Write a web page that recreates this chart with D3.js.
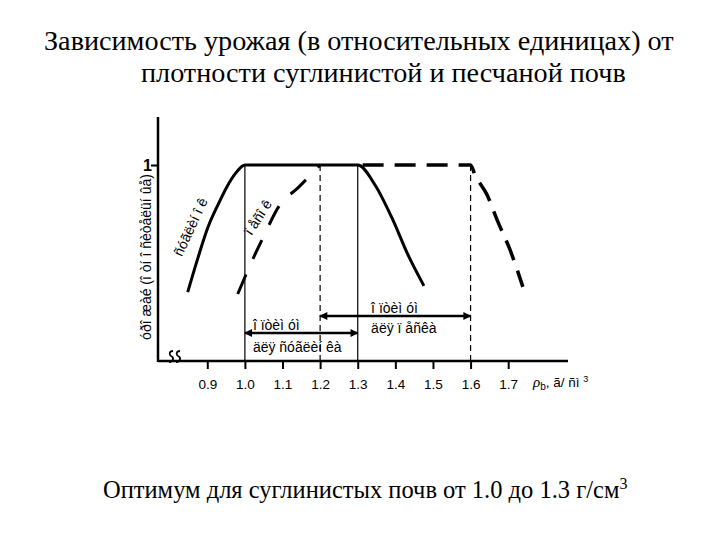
<!DOCTYPE html>
<html><head><meta charset="utf-8">
<script src="https://cdn.jsdelivr.net/npm/d3@7"></script>
<style>body{margin:0;background:#fff}svg{display:block}
.serif{font-family:'Liberation Serif','Times New Roman',serif}
.sans{font-family:'Liberation Sans',Arial,sans-serif}
</style>
</head><body>
<svg id="c" width="720" height="540"></svg>
<script>
const titleLines = ["Зависимость урожая (в относительных единицах) от", "плотности суглинистой и песчаной почв"];
const footnote = "Оптимум для суглинистых почв от 1.0 до 1.3 г/см";
const xTicks = [0.9, 1.0, 1.1, 1.2, 1.3, 1.4, 1.5, 1.6, 1.7];
const yTicks = [1];
const loamX = [0.848, 0.875, 0.902, 0.928, 0.952, 0.976, 1.0, 1.3, 1.346, 1.391, 1.434, 1.476];
const loamY = [0.611, 0.715, 0.810, 0.877, 0.933, 0.976, 1.0, 1.0, 0.939, 0.838, 0.724, 0.630];
const sandRiseX = [0.981, 1.013, 1.048, 1.093, 1.141, 1.2];
const sandRiseY = [0.605, 0.691, 0.777, 0.878, 0.930, 1.0];
const sandFallX = [1.313, 1.6, 1.612, 1.644, 1.673, 1.705, 1.739];
const sandFallY = [1.0, 1.0, 0.969, 0.908, 0.825, 0.740, 0.627];
const solidBounds = [1.0, 1.3];
const dashedBounds = [1.2, 1.6];
const optLoam = [1.0, 1.3];
const optSand = [1.2, 1.6];
const yLabel = "óðî æàé (î òí î ñèòåëüí ûå)";
const loamLabel = "ñóãëèí î ê";
const sandLabel = "ï åñî ê";
const optWord = "î ïòèì óì";
const optLoamLabel = "äëÿ ñóãëèí êà";
const optSandLabel = "äëÿ ï åñêà";

const svg = d3.select("#c");
const x = d3.scaleLinear().domain([0.769, 1.859]).range([158, 568]);
const y = d3.scaleLinear().domain([0.4, 1.147]).range([361, 117]);

// title
svg.append("text").attr("class", "serif").attr("x", 44).attr("y", 50).attr("font-size", 28.2).text(titleLines[0]);
svg.append("text").attr("class", "serif").attr("x", 141).attr("y", 82).attr("font-size", 28.2).text(titleLines[1]);

// footnote
const fn = svg.append("text").attr("class", "serif").attr("x", 103).attr("y", 498).attr("font-size", 24.5).text(footnote);
fn.append("tspan").attr("dy", -9).attr("font-size", 16).text("3");

// axes
const xAxis = d3.axisBottom(x).tickValues(xTicks).tickSize(8).tickFormat(d3.format(".1f"));
const gx = svg.append("g").attr("transform", "translate(0,361)").call(xAxis);
gx.select(".domain").attr("stroke-width", 2.5).attr("d", "M158,0H568");
gx.selectAll(".tick line").attr("stroke-width", 2);
gx.selectAll(".tick text").attr("class", "sans").attr("font-family", null).attr("font-size", 13.5).attr("dy", "1.25em").attr("fill", "#000");

const yAxis = d3.axisLeft(y).tickValues(yTicks).tickSize(7).tickFormat(d3.format("d"));
const gy = svg.append("g").attr("transform", "translate(158,0)").call(yAxis);
gy.select(".domain").attr("stroke-width", 2.5).attr("d", "M0,117V362");
gy.selectAll(".tick line").attr("stroke-width", 2);
gy.selectAll(".tick text").attr("class", "sans").attr("font-family", null).attr("font-size", 16).attr("font-weight", "bold").attr("x", -6).attr("fill", "#000");

// axis break squiggles
[170, 177].forEach(px => {
  svg.append("path").attr("fill", "none").attr("stroke", "#000").attr("stroke-width", 1.8)
    .attr("d", `M${px+3},351 C${px-1},351 ${px-1},355 ${px+1},356 C${px+4},357 ${px+4},362 ${px-1},362`);
});

// y label
svg.append("text").attr("class", "sans").attr("transform", "translate(151,257) rotate(-90)").attr("text-anchor", "middle")
  .attr("font-size", 14).text(yLabel);

// x label
const xl = svg.append("text").attr("class", "sans").attr("x", 533).attr("y", 387).attr("font-size", 13.5);
xl.append("tspan").attr("class", "serif").attr("font-style", "italic").attr("font-size", 15).text("ρ");
xl.append("tspan").attr("dy", 3).attr("font-size", 10).text("b");
xl.append("tspan").attr("dy", -3).text(", ã/ ñì  ");
xl.append("tspan").attr("dy", -5).attr("font-size", 9).text("3");

// boundary lines
solidBounds.forEach(v => svg.append("line").attr("x1", x(v)).attr("x2", x(v)).attr("y1", y(1)).attr("y2", 361)
  .attr("stroke", "#000").attr("stroke-width", 1.2));
dashedBounds.forEach(v => svg.append("line").attr("x1", x(v)).attr("x2", x(v)).attr("y1", y(1)).attr("y2", 361)
  .attr("stroke", "#000").attr("stroke-width", 1.2).attr("stroke-dasharray", "6,4"));

// curves
const line = d3.line().x(d => x(d[0])).y(d => y(d[1])).curve(d3.curveMonotoneX);
svg.append("path").datum(loamX.map((v, i) => [v, loamY[i]])).attr("d", line)
  .attr("fill", "none").attr("stroke", "#000").attr("stroke-width", 3);
svg.append("path").datum(sandRiseX.map((v, i) => [v, sandRiseY[i]])).attr("d", line)
  .attr("fill", "none").attr("stroke", "#000").attr("stroke-width", 3).attr("stroke-dasharray", "21,17");
svg.append("path").datum(sandFallX.map((v, i) => [v, sandFallY[i]])).attr("d", line)
  .attr("fill", "none").attr("stroke", "#000").attr("stroke-width", 3.5).attr("stroke-dasharray", "21,11");

// curve labels
svg.append("text").attr("class", "sans").attr("transform", "translate(195,229) rotate(-65)").attr("text-anchor", "middle")
  .attr("font-size", 14).text(loamLabel);
svg.append("text").attr("class", "sans").attr("transform", "translate(262,220) rotate(-57)").attr("text-anchor", "middle")
  .attr("font-size", 14).text(sandLabel);

// arrows
const defs = svg.append("defs");
defs.append("marker").attr("id", "arr").attr("viewBox", "0 0 10 10").attr("refX", 9).attr("refY", 5)
  .attr("markerWidth", 11).attr("markerHeight", 8).attr("markerUnits", "userSpaceOnUse").attr("orient", "auto-start-reverse")
  .append("path").attr("d", "M0,0L10,5L0,10Z").attr("fill", "#000");
function dblArrow(r, py) {
  svg.append("line").attr("x1", x(r[0])).attr("x2", x(r[1])).attr("y1", py).attr("y2", py)
    .attr("stroke", "#000").attr("stroke-width", 2.5)
    .attr("marker-start", "url(#arr)").attr("marker-end", "url(#arr)");
}
dblArrow(optLoam, 333);
dblArrow(optSand, 316);

svg.append("text").attr("class", "sans").attr("x", x(optLoam[0]) + 8).attr("y", 330).attr("font-size", 14).text(optWord);
svg.append("text").attr("class", "sans").attr("x", x(optLoam[0]) + 8).attr("y", 352).attr("font-size", 14).text(optLoamLabel);
svg.append("text").attr("class", "sans").attr("x", x(optSand[0]) + 51).attr("y", 313).attr("font-size", 14).text(optWord);
svg.append("text").attr("class", "sans").attr("x", x(optSand[0]) + 51).attr("y", 333).attr("font-size", 14).text(optSandLabel);
</script>
</body></html>
